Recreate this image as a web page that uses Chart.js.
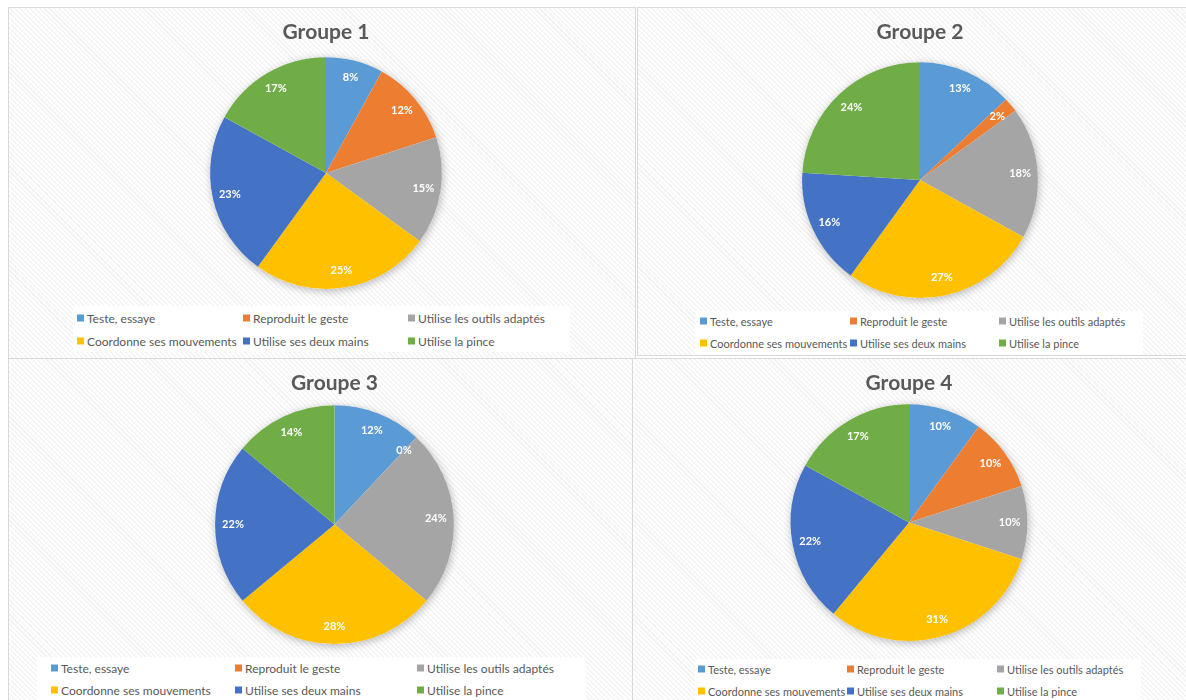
<!DOCTYPE html>
<html lang="fr">
<head>
<meta charset="utf-8">
<title>Groupes 1-4</title>
<script src="https://cdn.jsdelivr.net/npm/chart.js@4/dist/chart.umd.min.js"></script>
<style>
  html, body { margin: 0; padding: 0; background: #fff; }
  body { width: 1186px; height: 700px; position: relative; overflow: hidden; font-family: Lato, "Open Sans", sans-serif; }
  .panel {
    position: absolute; box-sizing: border-box; border: 1px solid #d9d9d9;
    background: repeating-linear-gradient(45deg, #ffffff 0 2px, #f4f4f4 2px 3.5px);
  }
  .panel canvas { position: absolute; left: 0; top: 0; }
  .legend { position: absolute; background: #fff; color: #595959; }
  .legend .item { position: absolute; white-space: nowrap; display: flex; align-items: center; transform: translateY(-50%); }
  .legend .swatch { width: 7px; height: 7px; margin-right: 3px; flex: none; }
</style>
</head>
<body>

<script>
// Categories and series
const categories = [
  'Teste, essaye',
  'Reproduit le geste',
  'Utilise les outils adaptés',
  'Coordonne ses mouvements',
  'Utilise ses deux mains',
  'Utilise la pince'
];
const groupe1 = [8, 12, 15, 25, 23, 17];
const groupe2 = [13, 2, 18, 27, 16, 24];
const groupe3 = [12, 0, 24, 28, 22, 14];
const groupe4 = [10, 10, 10, 31, 22, 17];

const sliceColors = ['#5B9BD5', '#ED7D31', '#A5A5A5', '#FFC000', '#4472C4', '#70AD47'];

// Layout of the four panels (page coordinates)
const panels = [
  {
    title: 'Groupe 1', data: groupe1,
    box: { x: 8, y: 7, w: 628, h: 352 },
    padding: { left: 6, right: 0, top: 0, bottom: 71 }, titleBottom: 12,
    legend: { x: 73, y: 306, w: 497, h: 46, cols: [4, 170, 335], rows: [12, 35], size: 12 }
  },
  {
    title: 'Groupe 2', data: groupe2,
    box: { x: 637, y: 7, w: 560, h: 349 },
    padding: { left: 15, right: 11, top: 0, bottom: 59 }, titleBottom: 17,
    legend: { x: 695, y: 311, w: 448, h: 44, cols: [5, 155, 304], rows: [10, 32], size: 11 }
  },
  {
    title: 'Groupe 3', data: groupe3,
    box: { x: 8, y: 358, w: 625, h: 350 },
    padding: { left: 26, right: 0, top: 0, bottom: 65 }, titleBottom: 9,
    legend: { x: 37, y: 657, w: 549, h: 43, cols: [14, 198, 380], rows: [11, 33], size: 12 }
  },
  {
    title: 'Groupe 4', data: groupe4,
    box: { x: 632, y: 358, w: 565, h: 350 },
    padding: { left: 0, right: 13, top: 0, bottom: 68 }, titleBottom: 8,
    legend: { x: 695, y: 659, w: 446, h: 41, cols: [3, 152, 302], rows: [10, 32], size: 11 }
  }
];

// Soft shadow behind the whole pie, like the Excel style
const pieShadow = {
  id: 'pieShadow',
  beforeDatasetsDraw(chart) {
    const arc = chart.getDatasetMeta(0).data[0];
    if (!arc) return;
    const { x, y, outerRadius } = arc.getProps(['x', 'y', 'outerRadius'], true);
    const ctx = chart.ctx;
    ctx.save();
    ctx.shadowColor = 'rgba(0,0,0,0.28)';
    ctx.shadowBlur = 9;
    ctx.shadowOffsetX = 1;
    ctx.shadowOffsetY = 2;
    ctx.fillStyle = '#ffffff';
    ctx.beginPath();
    ctx.arc(x, y, outerRadius, 0, Math.PI * 2);
    ctx.fill();
    ctx.restore();
  }
};

// Percent labels inside the slices
const sliceLabels = {
  id: 'sliceLabels',
  afterDatasetsDraw(chart) {
    const ctx = chart.ctx;
    const values = chart.data.datasets[0].data;
    ctx.save();
    ctx.font = 'bold 11px Lato, "Open Sans", sans-serif';
    ctx.fillStyle = '#ffffff';
    ctx.textAlign = 'center';
    ctx.textBaseline = 'middle';
    chart.getDatasetMeta(0).data.forEach((arc, i) => {
      const p = arc.getProps(['x', 'y', 'startAngle', 'endAngle', 'outerRadius'], true);
      const mid = (p.startAngle + p.endAngle) / 2;
      const r = p.outerRadius * 0.85;
      ctx.fillText(values[i] + '%', p.x + Math.cos(mid) * r, p.y + Math.sin(mid) * r);
    });
    ctx.restore();
  }
};

function buildLegend(cfg) {
  const el = document.createElement('div');
  el.className = 'legend';
  Object.assign(el.style, {
    left: cfg.x + 'px', top: cfg.y + 'px', width: cfg.w + 'px', height: cfg.h + 'px',
    fontSize: cfg.size + 'px'
  });
  categories.forEach((name, i) => {
    const item = document.createElement('div');
    item.className = 'item';
    item.style.left = cfg.cols[i % 3] + 'px';
    item.style.top = cfg.rows[Math.floor(i / 3)] + 'px';
    const sw = document.createElement('span');
    sw.className = 'swatch';
    sw.style.background = sliceColors[i];
    const txt = document.createElement('span');
    txt.textContent = name;
    item.appendChild(sw);
    item.appendChild(txt);
    el.appendChild(item);
  });
  document.body.appendChild(el);
}

panels.forEach(p => {
  const div = document.createElement('div');
  div.className = 'panel';
  Object.assign(div.style, {
    left: p.box.x + 'px', top: p.box.y + 'px', width: p.box.w + 'px', height: p.box.h + 'px'
  });
  const canvas = document.createElement('canvas');
  canvas.width = p.box.w;
  canvas.height = p.box.h;
  div.appendChild(canvas);
  document.body.appendChild(div);

  new Chart(canvas, {
    type: 'pie',
    data: {
      labels: categories,
      datasets: [{
        data: p.data,
        backgroundColor: sliceColors,
        borderWidth: 0
      }]
    },
    options: {
      responsive: false,
      animation: false,
      layout: { padding: p.padding },
      plugins: {
        legend: { display: false },
        tooltip: { enabled: false },
        title: {
          display: true,
          text: p.title,
          color: '#595959',
          font: { family: 'Lato, "Open Sans", sans-serif', size: 21, weight: 'bold', lineHeight: 1.2 },
          padding: { top: 12, bottom: p.titleBottom }
        }
      }
    },
    plugins: [pieShadow, sliceLabels]
  });

  buildLegend(p.legend);
});
</script>
</body>
</html>
